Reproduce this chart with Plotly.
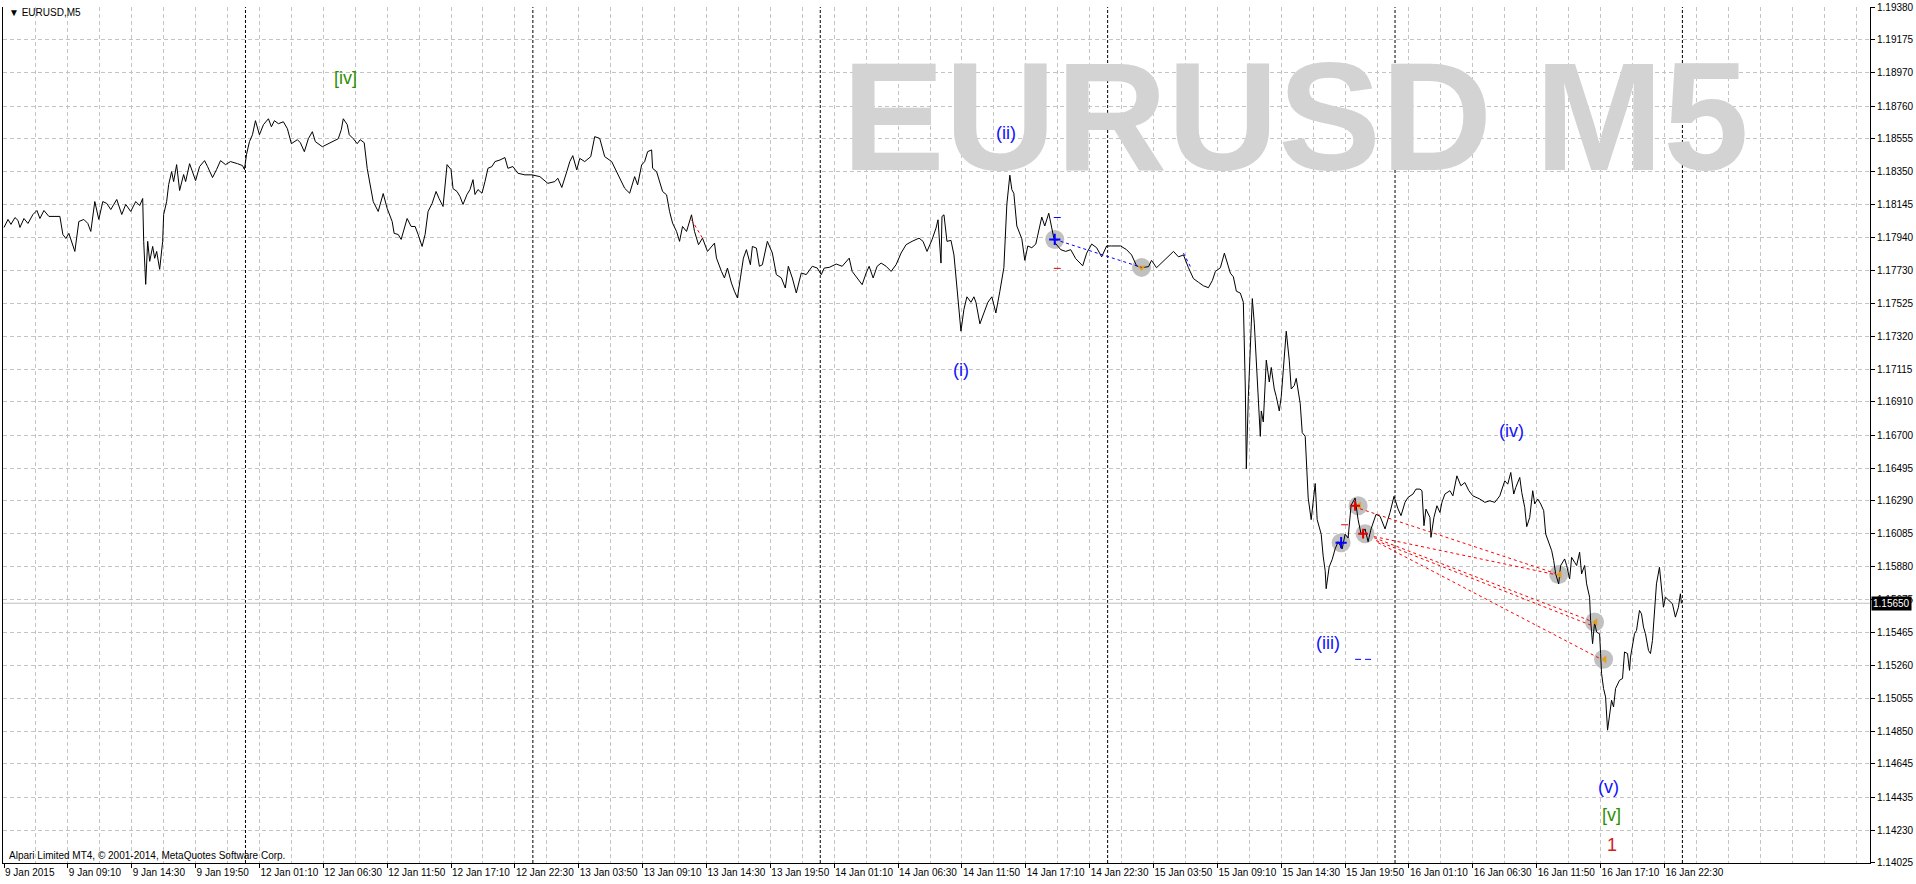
import plotly.graph_objects as go

# ---------------- data (EURUSD, M5) ----------------
# bar number counted from the first visible bar, 9 Jan 2015 03:50 (one bar = 5 minutes)
bar_index = [
    0, 4, 7, 11, 14, 16, 20, 24, 29, 33, 36, 40, 45, 52, 56, 59, 62, 65, 71, 75,
    80, 84, 87, 91, 95, 99, 103, 107, 113, 118, 122, 127, 132, 136, 139, 140, 142, 144, 146, 149,
    151, 153, 156, 159, 160, 163, 165, 168, 170, 173, 176, 180, 182, 186, 192, 196, 201, 204, 209, 213,
    217, 222, 227, 234, 239, 241, 243, 246, 249, 252, 256, 260, 265, 268, 271, 275, 280, 284, 288, 294,
    297, 301, 305, 309, 312, 319, 325, 330, 335, 338, 340, 344, 346, 350, 354, 357, 361, 364, 367, 370,
    375, 380, 384, 389, 391, 395, 398, 401, 404, 408, 412, 415, 419, 422, 425, 429, 433, 436, 440, 444,
    448, 450, 454, 457, 460, 464, 467, 470, 472, 475,
    479, 482, 485, 489, 492, 497, 502, 505, 510, 515, 522, 529, 537, 545, 552, 555, 559, 564, 567, 570,
    574, 577, 582, 588, 592, 597, 602, 609, 614, 619, 622, 627, 632, 635, 639, 642, 645, 649, 650, 654,
    657, 660, 664, 667, 670, 674, 677, 680, 684, 689, 692, 696, 700, 705, 712, 714, 719, 722, 725, 729,
    732, 735, 738, 741, 744, 748, 750, 754, 757, 760, 765, 770, 774, 779, 783, 786, 790, 794, 799, 804,
    810, 815, 819, 822, 827, 834, 840, 847, 850, 855, 860, 864, 867, 871, 875, 879, 884, 889, 894, 899,
    904, 910, 917, 921, 925, 930, 934, 936, 939, 940, 942, 945,
    949, 952, 955, 959, 962, 965, 969, 972, 974, 978, 982, 986, 990, 994, 998, 1002, 1005, 1008, 1010, 1012,
    1015, 1020, 1023, 1026, 1030, 1034, 1036, 1040, 1043, 1047, 1050, 1053, 1059, 1064, 1069, 1074, 1081, 1085, 1090, 1095,
    1100, 1105, 1110, 1119, 1125, 1130, 1135, 1140, 1147, 1150, 1155, 1161, 1167, 1172, 1177, 1182, 1187, 1192, 1197, 1202,
    1207, 1211, 1214, 1219, 1223, 1225, 1229, 1232, 1235, 1239, 1242, 1244, 1245, 1247, 1249, 1251, 1253, 1255, 1257, 1259,
    1260, 1262, 1265, 1268, 1270, 1273, 1275, 1278, 1280, 1283, 1285, 1288, 1290, 1293, 1295, 1299, 1301, 1304, 1305, 1307,
    1310, 1312, 1314, 1316, 1320, 1322, 1324, 1325, 1328, 1331, 1334, 1337, 1341, 1344, 1347, 1350, 1354, 1357, 1360, 1364,
    1367, 1370, 1373, 1375, 1379, 1384, 1389, 1393, 1397,
    1400, 1404, 1407, 1412, 1415, 1419, 1421, 1423, 1425, 1429, 1430, 1433, 1436, 1439, 1441, 1444, 1449, 1452, 1456, 1460,
    1464, 1468, 1472, 1479, 1484, 1489, 1494, 1499, 1502, 1504, 1507, 1510, 1513, 1515, 1519, 1521, 1524, 1526, 1529, 1532,
    1534, 1537, 1540, 1543, 1545, 1549, 1551, 1553, 1555, 1558, 1560, 1564, 1566, 1569, 1571, 1574, 1576, 1579, 1581, 1584,
    1586, 1589, 1590, 1592, 1594, 1596, 1599, 1600, 1601, 1603, 1605, 1607, 1609, 1611, 1613, 1615, 1619, 1622, 1624, 1627,
    1629, 1630, 1634, 1636, 1639, 1641, 1643, 1645, 1648, 1650, 1652, 1654, 1656, 1659, 1661, 1663, 1665, 1669, 1672, 1675,
    1678, 1680, 1681,
]
close_price = [
    1.18001, 1.18051, 1.18020, 1.18063, 1.18045, 1.18001, 1.18057, 1.18026, 1.18082, 1.18107, 1.18057, 1.18107, 1.18070, 1.18070, 1.18070, 1.17957, 1.17932, 1.17964, 1.17851, 1.18038,
    1.18051, 1.18026, 1.17976, 1.18163, 1.18051, 1.18163, 1.18151, 1.18113, 1.18176, 1.18082, 1.18145, 1.18101, 1.18163, 1.18138, 1.18182, 1.17914, 1.17645, 1.17914, 1.17789, 1.17882,
    1.17808, 1.17851, 1.17739, 1.17914, 1.18082, 1.18163, 1.18269, 1.18350, 1.18288, 1.18394, 1.18232, 1.18332, 1.18288, 1.18400, 1.18294, 1.18382, 1.18419, 1.18382, 1.18313, 1.18363,
    1.18419, 1.18394, 1.18413, 1.18400, 1.18388, 1.18363, 1.18457, 1.18538, 1.18581, 1.18669, 1.18581, 1.18644, 1.18681, 1.18631, 1.18669, 1.18650, 1.18662, 1.18619, 1.18525, 1.18550,
    1.18531, 1.18475, 1.18556, 1.18600, 1.18538, 1.18506, 1.18525, 1.18538, 1.18556, 1.18612, 1.18681, 1.18644, 1.18581, 1.18556, 1.18525, 1.18550, 1.18531, 1.18369, 1.18269, 1.18163,
    1.18101, 1.18213, 1.18120, 1.18038, 1.17964, 1.17957, 1.17926, 1.17989, 1.18057, 1.18007, 1.18007, 1.17957, 1.17882, 1.17957, 1.18101, 1.18151, 1.18226, 1.18182, 1.18132, 1.18394,
    1.18363, 1.18244, 1.18226, 1.18194, 1.18145, 1.18207, 1.18238, 1.18300, 1.18207, 1.18238,
    1.18215, 1.18288, 1.18371, 1.18382, 1.18413, 1.18423, 1.18438, 1.18371, 1.18382, 1.18340, 1.18330, 1.18330, 1.18319, 1.18277, 1.18288, 1.18309, 1.18251, 1.18350, 1.18413, 1.18450,
    1.18361, 1.18433, 1.18413, 1.18444, 1.18569, 1.18558, 1.18444, 1.18413, 1.18350, 1.18277, 1.18246, 1.18215, 1.18319, 1.18267, 1.18392, 1.18413, 1.18475, 1.18486, 1.18371, 1.18350,
    1.18288, 1.18226, 1.18205, 1.18101, 1.18028, 1.17976, 1.17914, 1.18007, 1.17976, 1.18080, 1.17976, 1.17893, 1.17934, 1.17851, 1.17903, 1.17809, 1.17726, 1.17685, 1.17747, 1.17653,
    1.17602, 1.17560, 1.17685, 1.17809, 1.17862, 1.17768, 1.17882, 1.17872, 1.17758, 1.17768, 1.17914, 1.17841, 1.17706, 1.17685, 1.17622, 1.17758, 1.17685, 1.17591, 1.17716, 1.17706,
    1.17758, 1.17747, 1.17706, 1.17747, 1.17751, 1.17772, 1.17758, 1.17809, 1.17726, 1.17685, 1.17643, 1.17716, 1.17758, 1.17685, 1.17758, 1.17778, 1.17758, 1.17726, 1.17768, 1.17841,
    1.17893, 1.17914, 1.17934, 1.17914, 1.17851, 1.17924, 1.17997, 1.18049, 1.17778, 1.18070, 1.18080, 1.17914,
    1.17920, 1.17829, 1.17624, 1.17352, 1.17489, 1.17567, 1.17533, 1.17567, 1.17533, 1.17398, 1.17466, 1.17533, 1.17567, 1.17466, 1.17602, 1.17749, 1.18146, 1.18328, 1.18238, 1.18214,
    1.18010, 1.17930, 1.17795, 1.17885, 1.17874, 1.17897, 1.17953, 1.18066, 1.18010, 1.18090, 1.17998, 1.17907, 1.17862, 1.17851, 1.17862, 1.17806, 1.17761, 1.17840, 1.17897, 1.17874,
    1.17817, 1.17885, 1.17885, 1.17885, 1.17862, 1.17829, 1.17761, 1.17749, 1.17756, 1.17795, 1.17749, 1.17783, 1.17817, 1.17851, 1.17817, 1.17829, 1.17749, 1.17681, 1.17658, 1.17636,
    1.17624, 1.17670, 1.17726, 1.17749, 1.17840, 1.17795, 1.17715, 1.17692, 1.17602, 1.17590, 1.17533, 1.16990, 1.16491, 1.16943, 1.17215, 1.17556, 1.17398, 1.17171, 1.16990, 1.16694,
    1.16853, 1.16784, 1.17171, 1.17034, 1.17125, 1.16990, 1.16943, 1.16853, 1.16943, 1.17171, 1.17352, 1.17171, 1.16990, 1.17012, 1.17057, 1.16898, 1.16717, 1.16694, 1.16581, 1.16308,
    1.16173, 1.16308, 1.16399, 1.16173, 1.16082, 1.15945, 1.15854, 1.15741, 1.15877, 1.15923, 1.15990, 1.16035, 1.15990, 1.16082, 1.16058, 1.16263, 1.16308, 1.16173, 1.16082, 1.16115,
    1.16035, 1.16115, 1.16173, 1.16206, 1.16194, 1.16115, 1.16218, 1.16319, 1.16240,
    1.16198, 1.16281, 1.16312, 1.16333, 1.16364, 1.16364, 1.16354, 1.16135, 1.16239, 1.16187, 1.16062, 1.16187, 1.16260, 1.16218, 1.16281, 1.16333, 1.16354, 1.16322, 1.16447, 1.16385,
    1.16405, 1.16354, 1.16322, 1.16302, 1.16281, 1.16291, 1.16281, 1.16322, 1.16385, 1.16416, 1.16395, 1.16468, 1.16333, 1.16374, 1.16437, 1.16343, 1.16249, 1.16129, 1.16187, 1.16354,
    1.16271, 1.16302, 1.16271, 1.16229, 1.16083, 1.16021, 1.15979, 1.15917, 1.15834, 1.15771, 1.15886, 1.15927, 1.15886, 1.15803, 1.15937, 1.15906, 1.15886, 1.15969, 1.15834, 1.15886,
    1.15771, 1.15688, 1.15542, 1.15397, 1.15532, 1.15469, 1.15459, 1.15335, 1.15210, 1.15116, 1.15064, 1.14856, 1.14939, 1.15043, 1.15001, 1.15116, 1.15168, 1.15179, 1.15345, 1.15335,
    1.15230, 1.15313, 1.15459, 1.15480, 1.15605, 1.15584, 1.15501, 1.15459, 1.15355, 1.15335, 1.15418, 1.15625, 1.15771, 1.15875, 1.15750, 1.15625, 1.15688, 1.15667, 1.15647, 1.15563,
    1.15625, 1.15709, 1.15650,
]
last_price = 1.15650

x_tick_bars = [0, 64, 128, 192, 256, 320, 384, 448, 512, 576, 640, 704, 768, 832, 896, 960,
               1024, 1088, 1152, 1216, 1280, 1344, 1408, 1472, 1536, 1600, 1664]
x_tick_labels = ["9 Jan 2015", "9 Jan 09:10", "9 Jan 14:30", "9 Jan 19:50", "12 Jan 01:10",
                 "12 Jan 06:30", "12 Jan 11:50", "12 Jan 17:10", "12 Jan 22:30", "13 Jan 03:50",
                 "13 Jan 09:10", "13 Jan 14:30", "13 Jan 19:50", "14 Jan 01:10", "14 Jan 06:30",
                 "14 Jan 11:50", "14 Jan 17:10", "14 Jan 22:30", "15 Jan 03:50", "15 Jan 09:10",
                 "15 Jan 14:30", "15 Jan 19:50", "16 Jan 01:10", "16 Jan 06:30", "16 Jan 11:50",
                 "16 Jan 17:10", "16 Jan 22:30"]
y_tick_labels = ["1.19380", "1.19175", "1.18970", "1.18760", "1.18555", "1.18350", "1.18145",
                 "1.17940", "1.17730", "1.17525", "1.17320", "1.17115", "1.16910", "1.16700",
                 "1.16495", "1.16290", "1.16085", "1.15880", "1.15675", "1.15465", "1.15260",
                 "1.15055", "1.14850", "1.14645", "1.14435", "1.14230", "1.14025"]
day_separator_bars = [242, 530, 818, 1106, 1394, 1682]

# trade arrow objects on the chart
arrow_bars = [1053, 1140, 1357, 1340, 1364, 1558, 1594, 1603]
arrow_prices = [1.17926, 1.17751, 1.16260, 1.16029, 1.16085, 1.15829, 1.15533, 1.15299]
# dashed connection lines (bar0, price0, bar1, price1)
blue_links = [(1053, 1.17926, 1140, 1.17751), (1182, 1.17840, 1190, 1.17743)]
red_links = [(1359, 1.16241, 1555, 1.15836), (1373, 1.16067, 1555, 1.15829),
             (1373, 1.16060, 1589, 1.15542), (1375, 1.16042, 1591, 1.15511),
             (1377, 1.16029, 1599, 1.15305), (689, 1.18049, 700, 1.17934)]
# small level marks (bar0, bar1, price, colour)
level_marks = [(1052, 1059, 1.18063, "#0000ff"), (1052, 1059, 1.17745, "#e00000"),
               (1340, 1347, 1.16141, "#e00000"), (1354, 1360, 1.15299, "#0000ff"),
               (1364, 1370, 1.15299, "#0000ff")]
# Elliott wave labels (text, bar, price, colour)
wave_labels = [("[iv]", 342, 1.18937, "#2f8f00"), ("(ii)", 1004, 1.18594, "#1010ff"),
               ("(i)", 959, 1.17109, "#1010ff"), ("(iii)", 1327, 1.15399, "#1010ff"),
               ("(iv)", 1511, 1.16728, "#1010ff"), ("(v)", 1608, 1.14500, "#1010ff"),
               ("[v]", 1611, 1.14323, "#2f8f00"), ("1", 1611, 1.14138, "#d02020")]

FONT = "Liberation Sans"
GRID = "#c4c4c4"

fig = go.Figure()

# grey circles behind arrows
fig.add_trace(go.Scatter(x=arrow_bars, y=arrow_prices, mode="markers",
                         marker=dict(size=19, color="#c0c0c0", line=dict(width=0)),
                         hoverinfo="skip", showlegend=False))
# price line
fig.add_trace(go.Scatter(x=bar_index, y=close_price, mode="lines",
                         line=dict(color="black", width=1), hoverinfo="skip", showlegend=False))
# orange arrow glyphs
orange_idx = [2, 5, 6, 7]
fig.add_trace(go.Scatter(x=[arrow_bars[i] + 1 for i in orange_idx],
                         y=[arrow_prices[i] for i in orange_idx], mode="markers",
                         marker=dict(symbol="triangle-left", size=7, color="#e0a020",
                                     line=dict(width=0)),
                         hoverinfo="skip", showlegend=False))
fig.add_trace(go.Scatter(x=[arrow_bars[1]], y=[arrow_prices[1]], mode="markers",
                         marker=dict(symbol="triangle-down", size=7, color="#e0a020",
                                     line=dict(width=0)),
                         hoverinfo="skip", showlegend=False))
fig.add_trace(go.Scatter(x=[arrow_bars[0], arrow_bars[3]], y=[arrow_prices[0], arrow_prices[3]],
                         mode="markers",
                         marker=dict(symbol="cross-thin", size=8, line=dict(width=2, color="#0000ff")),
                         hoverinfo="skip", showlegend=False))
fig.add_trace(go.Scatter(x=[arrow_bars[2] - 3, arrow_bars[4] - 2],
                         y=[arrow_prices[2], arrow_prices[4]], mode="markers",
                         marker=dict(symbol="cross-thin", size=7, line=dict(width=2, color="#e00000")),
                         hoverinfo="skip", showlegend=False))

shapes = []
for b in day_separator_bars:
    shapes.append(dict(type="line", xref="x", yref="paper", x0=b, x1=b, y0=0, y1=1,
                       line=dict(color="black", width=1, dash="3px,2px"), layer="between"))
shapes.append(dict(type="line", xref="paper", yref="y", x0=0, x1=1, y0=last_price, y1=last_price,
                   line=dict(color="#c0c0c0", width=1), layer="between"))
for b0, p0, b1, p1 in blue_links:
    shapes.append(dict(type="line", x0=b0, y0=p0, x1=b1, y1=p1,
                       line=dict(color="#0000ff", width=1, dash="3px,3px")))
for b0, p0, b1, p1 in red_links:
    shapes.append(dict(type="line", x0=b0, y0=p0, x1=b1, y1=p1,
                       line=dict(color="#ff0000", width=1, dash="3px,3px")))
for b0, b1, p, c in level_marks:
    shapes.append(dict(type="line", x0=b0, y0=p, x1=b1, y1=p, line=dict(color=c, width=1)))

annotations = [
    dict(text="<b>EURUSD M5</b>", x=1294, y=1.18690, xref="x", yref="y", showarrow=False,
         xanchor="center", yanchor="middle",
         font=dict(family=FONT, size=154, color="#d3d3d3")),
    dict(text="\u25bc EURUSD,M5", x=0, y=1, xref="paper", yref="paper", xanchor="left",
         yanchor="top", xshift=4, yshift=2, showarrow=False,
         font=dict(family=FONT, size=10, color="black")),
    dict(text="Alpari Limited MT4, \u00a9 2001-2014, MetaQuotes Software Corp.", x=0, y=0,
         xref="paper", yref="paper", xanchor="left", yanchor="bottom", xshift=4, yshift=0,
         showarrow=False, font=dict(family=FONT, size=10, color="black")),
    dict(text="%.5f" % last_price, x=1, y=last_price, xref="paper", yref="y", xanchor="left",
         yanchor="middle", xshift=1, showarrow=False, bgcolor="black", borderpad=1,
         font=dict(family=FONT, size=10, color="white")),
]
for txt, b, p, c in wave_labels:
    annotations.append(dict(text=txt, x=b, y=p, xref="x", yref="y", showarrow=False,
                            xanchor="center", yanchor="middle",
                            font=dict(family=FONT, size=18, color=c)))

fig.update_layout(
    width=1916, height=884,
    margin=dict(l=2, r=43, t=5, b=21, pad=0),
    paper_bgcolor="white", plot_bgcolor="white",
    hovermode=False, showlegend=False,
    shapes=shapes, annotations=annotations,
    xaxis=dict(range=[-1, 1870], tickmode="array", tickvals=x_tick_bars, ticktext=x_tick_labels,
               tickangle=0, ticks="outside", ticklen=4, tickcolor="black", tickwidth=1,
               ticklabelposition="outside right", ticklabeloverflow="allow",
               tickfont=dict(family=FONT, size=10, color="black"),
               showline=True, linecolor="black", linewidth=1, zeroline=False,
               showgrid=True, gridcolor=GRID, griddash="4px,3px", gridwidth=1,
               minor=dict(tickmode="linear", tick0=0, dtick=32, showgrid=True, gridcolor=GRID,
                          griddash="4px,3px", gridwidth=1, ticks=""),
               fixedrange=True),
    yaxis=dict(range=[1.140249, 1.193801], side="right", tickmode="array",
               tickvals=[float(t) for t in y_tick_labels], ticktext=y_tick_labels,
               ticks="outside", ticklen=4, tickcolor="black", tickwidth=1,
               ticklabeloverflow="allow",
               tickfont=dict(family=FONT, size=10, color="black"),
               showline=True, linecolor="black", linewidth=1, mirror=True, zeroline=False,
               showgrid=True, gridcolor=GRID, griddash="4px,3px", gridwidth=1,
               fixedrange=True),
)

fig.write_html("out.html", config={"displayModeBar": False},
               post_script="document.body.style.margin='0';document.body.style.overflow='hidden';")
